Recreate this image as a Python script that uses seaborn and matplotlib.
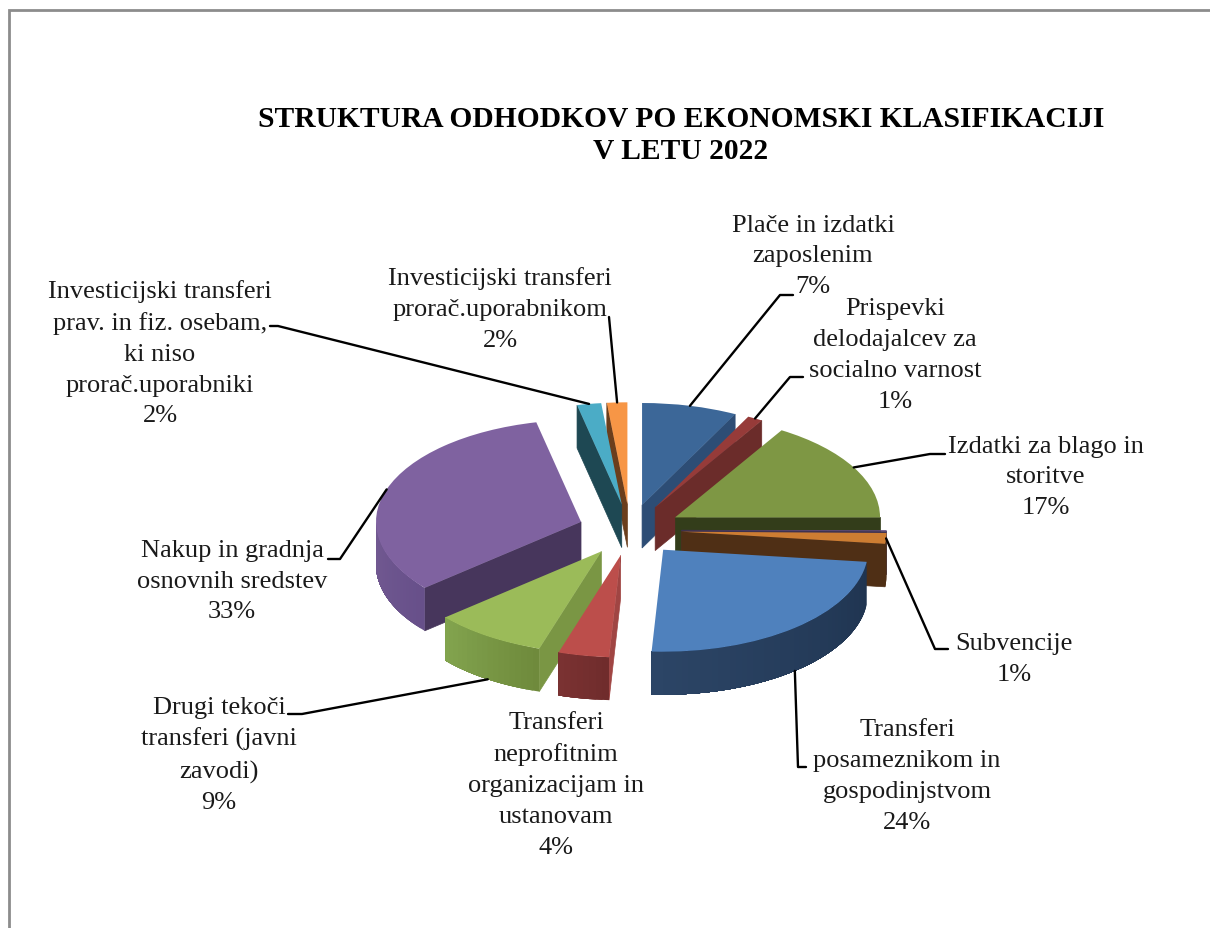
import numpy as np
import matplotlib
matplotlib.use("Agg")
import matplotlib.pyplot as plt
import seaborn as sns

# chart values (one tiny unlabelled slice sits in there too)
categories = ["Plače in izdatki\nzaposlenim", "Prispevki\ndelodajalcev za\nsocialno varnost",
              "Izdatki za blago in\nstoritve", "", "Subvencije",
              "Transferi\nposameznikom in\ngospodinjstvom",
              "Transferi\nneprofitnim\norganizacijam in\nustanovam",
              "Drugi tekoči\ntransferi (javni\nzavodi)",
              "Nakup in gradnja\nosnovnih sredstev",
              "Investicijski transferi\nprav. in fiz. osebam,\nki niso\nprorač.uporabniki",
              "Investicijski transferi\nprorač.uporabnikom"]
shares = [7.5, 1.2, 16.3, 0.2, 1.7, 24.0, 4.0, 8.9, 32.7, 1.9, 1.6]
printed_pct = [7, 1, 17, None, 1, 24, 4, 9, 33, 2, 2]

title = "STRUKTURA ODHODKOV PO EKONOMSKI KLASIFIKACIJI\nV LETU 2022"

# slice styling
top_colors = ["#3C6798", "#963B39", "#7E9744", "#5F4A7B", "#CD7D32", "#4F81BD",
              "#BC4E4B", "#9BBB59", "#7F62A0", "#4BACC6", "#F79646"]
side_colors = ["#2D4D75", "#6B2C2A", "#333D1A", "#3F3150", "#4F2F15", "#1F3450",
               "#A04543", "#7A9644", "#47365C", "#1E4853", "#6B3E1C"]
# rim shade at the start and the end of each slice, clockwise
rim_from = ["#2D4D75", "#6B2C2A", "#333D1A", "#3F3150", "#4F2F15", "#1F3450",
            "#702C2C", "#6F8A3C", "#67508A", "#1E4853", "#6B3E1C"]
rim_to = ["#2D4D75", "#6B2C2A", "#333D1A", "#3F3150", "#4F2F15", "#2C4566",
          "#7A3232", "#82A44E", "#735A92", "#1E4853", "#6B3E1C"]

# pie geometry in pixels of the 1210x929 picture
CX, CY = 630, 531
RX, RY = 205, 102
DEPTH = 43 / RY
EXPLODE = 0.252

# (label centre x, label centre y, elbow points of the leader line)
label_layout = [
    (813, 256.5, [(780, 296), (793, 296)]),
    (895, 355.5, [(790, 378), (803, 378)]),
    (1046, 477.5, [(930, 455), (945, 455)]),
    None,
    (1014, 659.5, [(935, 650), (948, 650)]),
    (907, 776.5, [(798, 768), (806, 768)]),
    (556, 785.5, None),
    (219, 755.5, [(302, 715), (288, 715)]),
    (232, 581.5, [(340, 560), (328, 560)]),
    (160, 353.5, [(278, 327), (270, 327)]),
    (500, 309.5, [(609, 318)]),
]


def px(x, y):
    return (x - CX) / RX, (CY - y) / RY


sns.set_theme(style="white")
plt.rcParams['font.family'] = ['Liberation Serif', 'DejaVu Serif']

fig = plt.figure(figsize=(12.10, 9.29), dpi=100, facecolor="white")
ax = fig.add_axes([0, 0, 1, 1])

palette = sns.color_palette(top_colors)
wedges, _ = ax.pie(shares, colors=palette, explode=[EXPLODE] * len(shares), radius=1,
                   startangle=90, counterclock=False)
ax.set_aspect("auto")
x0, _ = px(0, 0)
x1, _ = px(1210, 0)
_, y0 = px(0, 929)
_, y1 = px(0, 0)
ax.set_xlim(x0, x1)
ax.set_ylim(y0, y1)
ax.axis("off")

# frame of the chart area
fx, fy = px(9, 11)
ax.plot([fx, fx, x1], [y0, fy, fy], color="#8C8C8C", lw=2, solid_joinstyle="miter", zorder=1)

# angles run clockwise from 12 o'clock
edges = np.concatenate([[0], np.cumsum(shares)]) / np.sum(shares) * 2 * np.pi
mids = (edges[:-1] + edges[1:]) / 2
apex_x = EXPLODE * np.sin(mids)
apex_y = EXPLODE * np.cos(mids)

# back slices first, so nearer ones paint over them
order = np.argsort(-apex_y)
for rank, i in enumerate(order):
    z = 2 + rank
    wedges[i].set_zorder(z + 0.5)
    wedges[i].set_linewidth(0)
    ax_, ay_ = apex_x[i], apex_y[i]

    for theta, show in ((edges[i], np.sin(edges[i]) < -1e-6), (edges[i + 1], np.sin(edges[i + 1]) > 1e-6)):
        if not show:
            continue
        ex, ey = ax_ + np.sin(theta), ay_ + np.cos(theta)
        ax.fill([ax_, ex, ex, ax_], [ay_, ey, ey - DEPTH, ay_ - DEPTH],
                color=side_colors[i], lw=0.5, zorder=z)

    # outer rim, only the part that looks towards the viewer
    lo = max(edges[i], np.pi / 2)
    hi = min(edges[i + 1], 3 * np.pi / 2)
    if hi > lo:
        n = max(2, int((hi - lo) / 0.03))
        steps = np.linspace(lo, hi, n + 1)
        c0 = np.array(matplotlib.colors.to_rgb(rim_from[i]))
        c1 = np.array(matplotlib.colors.to_rgb(rim_to[i]))
        # each strip runs on to the slice end, the next one paints over it: no seams
        for k in range(n):
            a = np.linspace(steps[k], hi, 40)
            xs = ax_ + np.sin(a)
            ys = ay_ + np.cos(a)
            shade = c0 + (c1 - c0) * k / max(1, n - 1)
            ax.fill(np.r_[xs, xs[::-1]], np.r_[ys, ys[::-1] - DEPTH],
                    color=shade, lw=0, zorder=z)

# leader lines and labels
for i, layout in enumerate(label_layout):
    if layout is None:
        continue
    lx, ly, elbow = layout
    if elbow:
        sx = apex_x[i] + np.sin(mids[i])
        sy = apex_y[i] + np.cos(mids[i])
        if np.cos(mids[i]) < -0.1:
            sy -= DEPTH
        pts = [(sx, sy)] + [px(*p) for p in elbow]
        ax.plot([p[0] for p in pts], [p[1] for p in pts], color="black", lw=1.7, zorder=40)
    tx, ty = px(lx, ly)
    ax.text(tx, ty, f"{categories[i]}\n{printed_pct[i]}%", ha="center", va="center",
            fontsize=19, color="#1a1a1a", linespacing=1.52, zorder=50)

tx, ty = px(681, 135.5)
ax.text(tx, ty, title, ha="center", va="center", fontsize=21.25, fontweight="bold",
        color="black", linespacing=1.28, zorder=50)

fig.savefig("out.png", dpi=100, facecolor="white")
